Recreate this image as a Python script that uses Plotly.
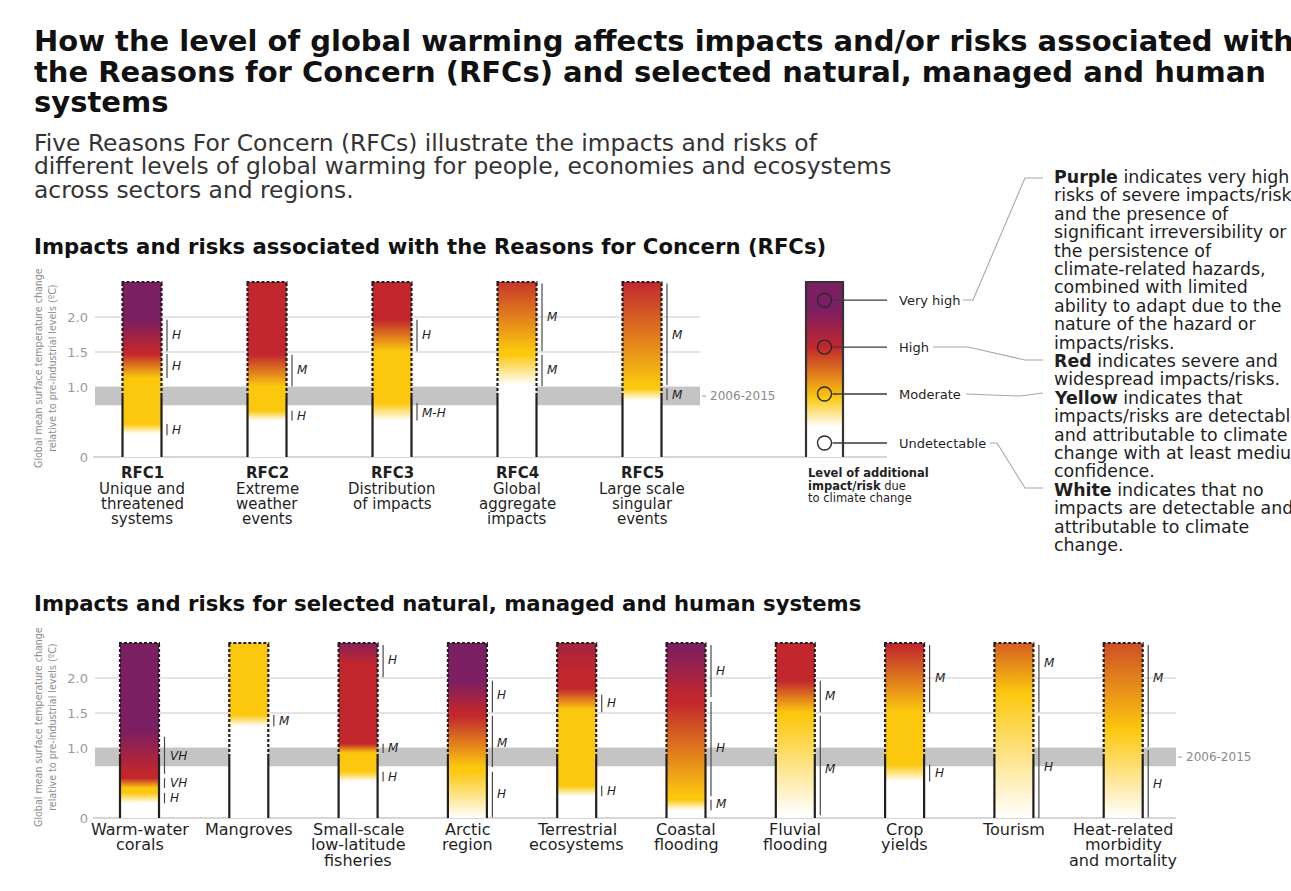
import plotly.graph_objects as go

W, H = 1291, 891

# ---------------- data ----------------
TOP_T = 2.5                # columns are drawn up to this warming level (degC)
PRESENT_T = 0.87           # present warming: solid outline below, dashed above
PERIOD_BAND = (0.74, 1.0)  # 2006-2015 warming range
PERIOD_LABEL = "2006-2015"
Y_TICKS = [0, 1.0, 1.5, 2.0]
Y_TICK_TEXT = ["0", "1.0", "1.5", "2.0"]

# risk levels: 0 undetectable (white), 1 moderate (yellow), 2 high (red), 3 very high (purple)
LEVEL_RGB = [(255, 255, 255), (252, 200, 14), (193, 39, 45), (124, 30, 98)]

rfc_codes = ["RFC1", "RFC2", "RFC3", "RFC4", "RFC5"]
rfc_names = [
    ["Unique and", "threatened", "systems"],
    ["Extreme", "weather", "events"],
    ["Distribution", "of impacts"],
    ["Global", "aggregate", "impacts"],
    ["Large scale", "singular", "events"],
]
# (warming degC, risk level) colour stops
rfc_stops = [
    [(0.33, 0), (0.47, 1), (1.13, 1), (1.47, 2), (1.51, 2), (1.96, 3)],
    [(0.52, 0), (0.66, 1), (1.01, 1), (1.46, 2)],
    [(0.52, 0), (0.77, 1), (1.51, 1), (1.96, 2)],
    [(1.03, 0), (1.46, 1), (1.51, 1), (2.50, 1.9)],
    [(0.81, 0), (0.98, 1), (1.03, 1), (2.50, 2)],
]
# confidence in transitions: (from, to, confidence, label height)
rfc_conf = [
    [(1.51, 1.96, "H", 1.74), (1.13, 1.47, "H", 1.30), (0.31, 0.47, "H", 0.39)],
    [(1.01, 1.46, "M", 1.24), (0.52, 0.66, "H", 0.59)],
    [(1.51, 1.96, "H", 1.74), (0.52, 0.77, "M-H", 0.63)],
    [(1.51, 2.48, "M", 2.00), (1.01, 1.46, "M", 1.24)],
    [(1.03, 2.48, "M", 1.74), (0.81, 0.98, "M", 0.89)],
]

sys_names = [
    ["Warm-water", "corals"],
    ["Mangroves"],
    ["Small-scale", "low-latitude", "fisheries"],
    ["Arctic", "region"],
    ["Terrestrial", "ecosystems"],
    ["Coastal", "flooding"],
    ["Fluvial", "flooding"],
    ["Crop", "yields"],
    ["Tourism"],
    ["Heat-related", "morbidity", "and mortality"],
]
sys_stops = [
    [(0.21, 0), (0.36, 1), (0.43, 1), (0.57, 2), (0.65, 2), (1.25, 3)],
    [(1.31, 0), (1.47, 1)],
    [(0.52, 0), (0.66, 1), (0.93, 1), (1.06, 2), (2.20, 2), (2.50, 2.8)],
    [(0.00, 0), (0.66, 1), (0.73, 1), (1.46, 2), (1.51, 2), (1.96, 3)],
    [(0.31, 0), (0.46, 1), (1.55, 1), (1.85, 2), (2.10, 2), (2.50, 2.4)],
    [(0.11, 0), (0.26, 1), (0.31, 1), (1.66, 2), (1.73, 2), (2.47, 3)],
    [(0.04, 0), (1.46, 1), (1.51, 1), (1.96, 2)],
    [(0.52, 0), (0.76, 1), (1.51, 1), (2.47, 2)],
    [(0.00, 0), (1.79, 1), (2.50, 1.65)],
    [(0.00, 0), (1.26, 1), (2.50, 1.75)],
]
sys_conf = [
    [(0.63, 1.16, "VH", 0.89), (0.43, 0.57, "VH", 0.50), (0.21, 0.36, "H", 0.28)],
    [(1.31, 1.47, "M", 1.39)],
    [(2.01, 2.47, "H", 2.26), (0.93, 1.06, "M", 1.00), (0.52, 0.66, "H", 0.59)],
    [(1.51, 1.96, "H", 1.76), (0.73, 1.46, "M", 1.07), (0.01, 0.66, "H", 0.34)],
    [(1.51, 1.76, "H", 1.65), (0.31, 0.46, "H", 0.39)],
    [(1.73, 2.47, "H", 2.10), (0.31, 1.66, "H", 1.00), (0.11, 0.26, "M", 0.20)],
    [(1.51, 1.96, "M", 1.75), (0.04, 1.46, "M", 0.70)],
    [(1.51, 2.47, "M", 2.00), (0.52, 0.76, "H", 0.64)],
    [(1.51, 2.47, "M", 2.22), (0.00, 1.46, "H", 0.73)],
    [(1.01, 2.47, "M", 2.00), (0.01, 0.97, "H", 0.49)],
]

key_levels = ["Very high", "High", "Moderate", "Undetectable"]
key_marks = [2.24, 1.57, 0.90, 0.20]
key_stops = [(0.43, 0), (0.85, 1), (1.57, 2), (2.10, 3)]

title_lines = [
    "How the level of global warming affects impacts and/or risks associated with",
    "the Reasons for Concern (RFCs) and selected natural, managed and human",
    "systems",
]
intro_lines = [
    "Five Reasons For Concern (RFCs) illustrate the impacts and risks of",
    "different levels of global warming for people, economies and ecosystems",
    "across sectors and regions.",
]
header_rfc = "Impacts and risks associated with the Reasons for Concern (RFCs)"
header_sys = "Impacts and risks for selected natural, managed and human systems"
note_lines = [
    "<b>Purple</b> indicates very high",
    "risks of severe impacts/risks",
    "and the presence of",
    "significant irreversibility or",
    "the persistence of",
    "climate-related hazards,",
    "combined with limited",
    "ability to adapt due to the",
    "nature of the hazard or",
    "impacts/risks.",
    "<b>Red</b> indicates severe and",
    "widespread impacts/risks.",
    "<b>Yellow</b> indicates that",
    "impacts/risks are detectable",
    "and attributable to climate",
    "change with at least medium",
    "confidence.",
    "<b>White</b> indicates that no",
    "impacts are detectable and",
    "attributable to climate",
    "change.",
]
y_title = "Global mean surface temperature change<br>relative to pre-industrial levels (ºC)"

# ---------------- layout geometry (pixels) ----------------
FONT = "DejaVu Sans"
DARK = "#1f1f1f"
GRID = "#c9c9c9"
BAND = "#c4c4c4"

PX_PER_DEG = 70.0
TOP_ZERO, BOT_ZERO = 457, 818
TOP_PANEL = (270, 470)
BOT_PANEL = (630, 830)
AXIS_LEFT = 95
TOP_GRID_RIGHT, BOT_GRID_RIGHT = 700, 1176
TOP_BASE_RIGHT = 887

RFC_X0, RFC_DX = 142.0, 125.0
SYS_X0, SYS_DX = 139.5, 109.3
KEY_X = 824.5
HALF = 19.5
KEY_HALF = 18.5


def paper_y(px):
    return 1 - px / H


def level_color(level):
    i = min(int(level), 2)
    f = level - i
    a, b = LEVEL_RGB[i], LEVEL_RGB[i + 1]
    r, g, bl = (round(a[k] + (b[k] - a[k]) * f) for k in range(3))
    return f"rgb({r},{g},{bl})"


def gradient_scale(stops):
    scale = []

    def add(pos, level):
        pos = round(min(max(pos, 0.0), 1.0), 4)
        if scale and pos <= scale[-1][0]:
            return
        scale.append([pos, level_color(level)])

    add(0.0, stops[0][1])
    for t, lev in stops:
        add(t / TOP_T, lev)
    add(1.0, stops[-1][1])
    return scale


fig = go.Figure()
shapes = []
annotations = []


def text(x, py, s, size, color=DARK, anchor="left", family=FONT, bold=False, italic=False,
         xref="x", yref="paper"):
    annotations.append(dict(
        x=x, y=paper_y(py) if yref == "paper" else py, xref=xref, yref=yref, text=s,
        showarrow=False, xanchor=anchor, yanchor="middle",
        font=dict(family=family, size=size, color=color,
                  weight="bold" if bold else "normal",
                  style="italic" if italic else "normal"),
    ))


def column(cx, stops, conf, xa, ya):
    x0, x1 = cx - HALF, cx + HALF
    fig.add_trace(go.Scatter(
        x=[x0, x1, x1, x0, x0], y=[0, 0, TOP_T, TOP_T, 0],
        xaxis=xa, yaxis=ya, mode="none", fill="toself",
        fillgradient=dict(type="vertical", colorscale=gradient_scale(stops), start=0, stop=TOP_T),
        hoverinfo="skip", showlegend=False,
    ))
    xr, yr = xa, ya
    for x in (x0, x1):
        shapes.append(dict(type="line", xref=xr, yref=yr, x0=x, x1=x, y0=0, y1=PRESENT_T,
                           line=dict(color=DARK, width=2.2), layer="above"))
        shapes.append(dict(type="line", xref=xr, yref=yr, x0=x, x1=x, y0=PRESENT_T, y1=TOP_T,
                           line=dict(color=DARK, width=2.2, dash="3px,2px"), layer="above"))
    shapes.append(dict(type="line", xref=xr, yref=yr, x0=x0 - 1, x1=x1 + 1, y0=TOP_T, y1=TOP_T,
                       line=dict(color=DARK, width=2.2, dash="3px,2px"), layer="above"))
    for lo, hi, lab, at in conf:
        shapes.append(dict(type="line", xref=xr, yref=yr, x0=x1 + 5.5, x1=x1 + 5.5, y0=lo, y1=hi,
                           line=dict(color="#4a4a4a", width=1.2), layer="above"))
        annotations.append(dict(
            x=x1 + 8.5, y=at, xref=xr, yref=yr, text=lab, showarrow=False,
            xanchor="left", yanchor="middle",
            font=dict(family=FONT, size=12, color=DARK, style="italic"),
        ))


def panel_frame(xa, ya, grid_right, base_right):
    shapes.append(dict(type="rect", xref=xa, yref=ya, x0=AXIS_LEFT, x1=grid_right,
                       y0=PERIOD_BAND[0], y1=PERIOD_BAND[1], fillcolor=BAND,
                       line=dict(width=0), layer="below"))
    for t in Y_TICKS[1:]:
        shapes.append(dict(type="line", xref=xa, yref=ya, x0=AXIS_LEFT, x1=grid_right, y0=t, y1=t,
                           line=dict(color=GRID, width=1), layer="below"))
    shapes.append(dict(type="line", xref=xa, yref=ya, x0=AXIS_LEFT - 2, x1=base_right, y0=0, y1=0,
                       line=dict(color=GRID, width=1.6), layer="below"))
    mid = sum(PERIOD_BAND) / 2
    shapes.append(dict(type="line", xref=xa, yref=ya, x0=grid_right + 2, x1=grid_right + 6,
                       y0=mid, y1=mid, line=dict(color="#9a9a9a", width=1), layer="below"))
    annotations.append(dict(x=grid_right + 8, y=mid, xref=xa, yref=ya, text=PERIOD_LABEL,
                            showarrow=False, xanchor="left", yanchor="middle",
                            font=dict(family=FONT, size=12, color="#8a8a8a")))


# ---------------- top panel: Reasons for Concern ----------------
panel_frame("x", "y", TOP_GRID_RIGHT, TOP_BASE_RIGHT)
for i, code in enumerate(rfc_codes):
    cx = RFC_X0 + i * RFC_DX
    column(cx, rfc_stops[i], rfc_conf[i], "x", "y")
    text(cx, 473, code, 15, anchor="center", bold=True)
    for j, line in enumerate(rfc_names[i]):
        text(cx, 489 + 15 * j, line, 15, anchor="center")

# risk-level key column
fig.add_trace(go.Scatter(
    x=[KEY_X - KEY_HALF, KEY_X + KEY_HALF, KEY_X + KEY_HALF, KEY_X - KEY_HALF, KEY_X - KEY_HALF],
    y=[0, 0, TOP_T, TOP_T, 0], xaxis="x", yaxis="y", mode="none", fill="toself",
    fillgradient=dict(type="vertical", colorscale=gradient_scale(key_stops), start=0, stop=TOP_T),
    hoverinfo="skip", showlegend=False,
))
for x in (KEY_X - KEY_HALF, KEY_X + KEY_HALF):
    shapes.append(dict(type="line", xref="x", yref="y", x0=x, x1=x, y0=0, y1=TOP_T,
                       line=dict(color="#333333", width=2.2), layer="above"))
shapes.append(dict(type="line", xref="x", yref="y", x0=KEY_X - KEY_HALF - 1, x1=KEY_X + KEY_HALF + 1,
                   y0=TOP_T, y1=TOP_T, line=dict(color="#333333", width=2.2), layer="above"))
for lev, t in zip(key_levels, key_marks):
    shapes.append(dict(type="line", xref="x", yref="y", x0=KEY_X + 8, x1=TOP_BASE_RIGHT, y0=t, y1=t,
                       line=dict(color="#3a3a3a", width=1.3), layer="above"))
    text(897, TOP_ZERO - t * PX_PER_DEG, lev, 13)
fig.add_trace(go.Scatter(
    x=[KEY_X] * len(key_marks), y=key_marks, xaxis="x", yaxis="y", mode="markers",
    marker=dict(symbol="circle-open", size=14, color="#2a2a2a", line=dict(width=1.4)),
    hoverinfo="skip", showlegend=False,
))
text(806, 473, "<b>Level of additional</b>", 11.5)
text(806, 485.5, "<b>impact/risk</b> due", 11.5)
text(806, 498, "to climate change", 11.5)

# callouts from the key to the explanatory notes
CALLOUT = dict(color="#a8a8a8", width=1.1)
callouts = [
    [(963, 300), (973, 300), (1025, 178), (1043, 178)],
    [(933, 347), (968, 347), (1025, 360), (1043, 360)],
    [(966, 394), (1020, 396), (1043, 393)],
    [(990, 443), (997, 443), (1025, 488), (1043, 488)],
]
for pts in callouts:
    path = "M " + " L ".join(f"{x},{paper_y(y)}" for x, y in pts)
    shapes.append(dict(type="path", xref="x", yref="paper", path=path, line=CALLOUT, layer="above"))

for k, line in enumerate(note_lines):
    text(1052, 177 + 18.4 * k, line, 17.4)

# ---------------- bottom panel: natural, managed and human systems ----------------
panel_frame("x2", "y2", BOT_GRID_RIGHT, BOT_GRID_RIGHT)
for i, name in enumerate(sys_names):
    cx = SYS_X0 + i * SYS_DX
    column(cx, sys_stops[i], sys_conf[i], "x2", "y2")
    for j, line in enumerate(name):
        text(cx, 829 + 15.5 * j, line, 16, anchor="center", xref="x2")

# ---------------- titles ----------------
for k, line in enumerate(title_lines):
    text(32, 41 + 30.5 * k, line, 29, color="#111111", bold=True)
for k, line in enumerate(intro_lines):
    text(32, 143 + 23.5 * k, line, 23.4, color="#333333")
text(32, 247, header_rfc, 21.2, color="#111111", bold=True)
text(32, 603, header_sys, 21.2, color="#111111", bold=True)

YT_FONT = dict(family="DejaVu Sans Condensed, Liberation Sans Narrow, Roboto Condensed, DejaVu Sans",
               size=10.6, color="#8c8c8c")
for cy in (368, 727):
    annotations.append(dict(x=45, y=paper_y(cy), xref="x", yref="paper", text=y_title,
                            textangle=-90, showarrow=False, xanchor="center", yanchor="middle",
                            font=YT_FONT))


def yaxis(panel, zero):
    top, bottom = panel
    return dict(
        domain=[paper_y(bottom), paper_y(top)],
        range=[(zero - bottom) / PX_PER_DEG, (zero - top) / PX_PER_DEG],
        anchor="free", position=AXIS_LEFT / W,
        tickvals=Y_TICKS, ticktext=Y_TICK_TEXT, ticks="", showgrid=False, zeroline=False,
        showline=False, ticklabelstandoff=7, fixedrange=True,
        tickfont=dict(family=FONT, size=13, color="#9a9a9a"),
    )


xcommon = dict(domain=[0, 1], range=[0, W], visible=False, fixedrange=True)
fig.update_layout(
    width=W, height=H, margin=dict(l=0, r=0, t=0, b=0),
    paper_bgcolor="white", plot_bgcolor="white", showlegend=False,
    xaxis=dict(anchor="y", **xcommon),
    xaxis2=dict(anchor="y2", **xcommon),
    yaxis=yaxis(TOP_PANEL, TOP_ZERO),
    yaxis2=yaxis(BOT_PANEL, BOT_ZERO),
    shapes=shapes, annotations=annotations,
)

fig.write_html("out.html")
